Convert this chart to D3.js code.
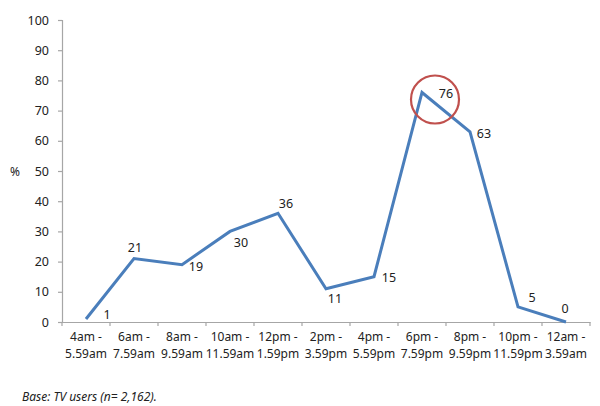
<!DOCTYPE html>
<html><head><meta charset="utf-8">
<script src="https://cdn.jsdelivr.net/npm/d3@7"></script>
<style>
body{margin:0;background:#fff;}
svg{display:block;font-family:"Noto Sans",sans-serif;}
</style></head>
<body>
<svg id="chart" width="600" height="406"></svg>
<script>
const categoriesTop = ["4am -","6am -","8am -","10am -","12pm -","2pm -","4pm -","6pm -","8pm -","10pm -","12am -"];
const categoriesBottom = ["5.59am","7.59am","9.59am","11.59am","1.59pm","3.59pm","5.59pm","7.59pm","9.59pm","11.59pm","3.59am"];
const values = [1,21,19,30,36,11,15,76,63,5,0];
const yTicks = [0,10,20,30,40,50,60,70,80,90,100];
const highlightIndex = 7;
const yLabel = "%";
const baseNote = "Base: TV users (n= 2,162).";

// label offsets (layout only) relative to each point
const labelOffsets = [[21,-4],[1,-11],[14,2],[11,11],[8,-10],[9,10],[15,1],[24,1],[14,2],[14,-9],[-1,-14]];

const svg = d3.select("#chart");
const margin = {left:62, right:10, top:20, bottom:84};
const W = 600, H = 406;
const x = d3.scaleBand().domain(d3.range(values.length)).range([62,590]);
const y = d3.scaleLinear().domain([0,100]).range([322,20]);
const axisColor = "#a6a6a6";

// y axis
const yAxis = d3.axisLeft(y).tickValues(yTicks).tickSize(4).tickPadding(9);
const gy = svg.append("g").attr("transform","translate(62,0)").call(yAxis);
gy.select(".domain").attr("stroke",axisColor).attr("stroke-width",1.2);
gy.selectAll(".tick line").attr("stroke",axisColor).attr("stroke-width",1.2);
gy.selectAll(".tick text").attr("font-size",12.5).attr("fill","#222").attr("font-family","Noto Sans");

// x axis
const xAxis = d3.axisBottom(x).tickSize(0).tickFormat("");
const gx = svg.append("g").attr("transform","translate(0,322)").call(xAxis);
gx.select(".domain").attr("stroke",axisColor).attr("stroke-width",1.2);
gx.selectAll(".tick").remove();
// boundary ticks
const bounds = d3.range(values.length+1).map(i => i < values.length ? x(i) : x(values.length-1)+x.bandwidth());
gx.selectAll("line.bt").data(bounds).enter().append("line")
  .attr("x1",d=>d).attr("x2",d=>d).attr("y1",0).attr("y2",4)
  .attr("stroke",axisColor).attr("stroke-width",1.2);
// category labels
const cl = svg.append("g").attr("font-size",12).attr("fill","#222").attr("text-anchor","middle");
categoriesTop.forEach((c,i)=>{
  cl.append("text").attr("x",x(i)+x.bandwidth()/2).attr("y",341).text(c);
  cl.append("text").attr("x",x(i)+x.bandwidth()/2).attr("y",358).text(categoriesBottom[i]);
});

// y label
svg.append("text").attr("x",15).attr("y",176).attr("font-size",12).attr("fill","#222").attr("text-anchor","middle").text(yLabel);

// line
const px = i => x(i)+x.bandwidth()/2;
const line = d3.line().x((d,i)=>px(i)).y(d=>y(d));
svg.append("path").datum(values).attr("d",line).attr("fill","none")
  .attr("stroke","#4a7ebb").attr("stroke-width",3).attr("stroke-linejoin","miter");

// value labels
svg.append("g").attr("font-size",12.5).attr("fill","#222").attr("text-anchor","middle")
  .selectAll("text").data(values).enter().append("text")
  .attr("x",(d,i)=>px(i)+labelOffsets[i][0])
  .attr("y",(d,i)=>y(d)+labelOffsets[i][1]+4.5)
  .text(d=>d);

// highlight circle
svg.append("circle").attr("cx",px(highlightIndex)+13).attr("cy",y(values[highlightIndex])+7).attr("r",24)
  .attr("fill","none").attr("stroke","#c0504d").attr("stroke-width",2.2);

// base note
svg.append("text").attr("x",22).attr("y",401).attr("font-size",12).attr("font-style","italic").attr("fill","#222").text(baseNote);
</script>
</body></html>
